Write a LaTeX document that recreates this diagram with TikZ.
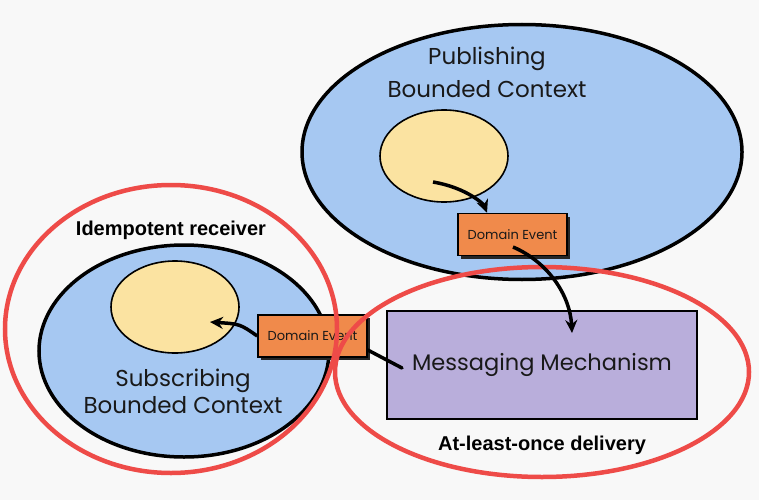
\documentclass[tikz,border=0pt]{standalone}
\usepackage{fontspec}
\setmainfont{Poppins}
\newfontfamily\labelfont{Liberation Sans}
\usetikzlibrary{shapes.geometric,arrows.meta}
\definecolor{bgc}{HTML}{F8F8F8}
\definecolor{ctxblue}{HTML}{A6C8F2}
\definecolor{aggyel}{HTML}{FBE3A1}
\definecolor{evorange}{HTML}{F08A4B}
\definecolor{msglav}{HTML}{B9AEDB}
\definecolor{ringred}{HTML}{EE4B48}
\tikzset{
  ctx/.style={ellipse, draw=black, line width=3.5pt, fill=ctxblue, inner sep=0pt},
  agg/.style={ellipse, draw=black, line width=1.6pt, fill=aggyel, inner sep=0pt, minimum width=128pt, minimum height=92pt},
  evbox/.style={rectangle, draw=black, line width=1.5pt, fill=evorange, minimum width=109pt, minimum height=42pt, inner sep=0pt, text=black!90, font=\fontsize{13}{15}\selectfont},
  evshadow/.style={rectangle, fill=black!85, minimum width=109pt, minimum height=42pt, inner sep=0pt},
  hand/.style={align=center, text=black!90, font=\fontsize{23}{33}\selectfont},
  ring/.style={ellipse, draw=ringred, line width=4.5pt, inner sep=0pt},
  ringlabel/.style={font=\labelfont\bfseries\fontsize{20}{23}\selectfont},
  arr/.style={line width=3.5pt, -{Stealth[length=13pt,width=12pt]}},
  link/.style={line width=3.5pt, line cap=round}
}
\begin{document}
\begin{tikzpicture}[x=1pt,y=-1pt]
\fill[bgc] (0,0) rectangle (759,500);
\useasboundingbox (0,0) rectangle (759,500);
% publishing context
\node[ctx, minimum width=440pt, minimum height=255pt] (pub) at (522,152) {};
\node[hand] (pubtxt) at (487,72) {Publishing\\Bounded Context};
\node[agg] (pubagg) at (444,156) {};
% subscribing context
\node[ctx, minimum width=290pt, minimum height=212pt] (sub) at (184,351) {};
\node[agg] (subagg) at (175,307) {};
\node[hand, font=\fontsize{23}{27}\selectfont] (subtxt) at (183,391) {Subscribing\\Bounded Context};
% messaging mechanism
\node[rectangle, draw=black, line width=2pt, fill=msglav, minimum width=310pt, minimum height=108pt, inner sep=0pt, font=\fontsize{22.5}{26}\selectfont, text=black!90] (msg) at (542,365) {Messaging Mechanism};
% domain events
\node[evshadow] (de1s) at (515.5,237.5) {};
\node[evbox] (de1) at (512.5,234.5) {Domain Event};
\node[evshadow] (de2s) at (315.5,339) {};
\node[evbox] (de2) at (312.5,336) {Domain Event};
% rings
\node[ring, minimum width=332pt, minimum height=288pt] (ringL) at (171,329) {};
\node[ring, minimum width=414pt, minimum height=210pt] (ringR) at (542,372) {};
\node[ringlabel] (lblL) at (171,230) {Idempotent receiver};
\node[ringlabel] (lblR) at (542,445) {At-least-once delivery};
% connectors
\coordinate (a1) at (433,182);
\coordinate (a2) at (513,247);
\coordinate (a3) at (572,333);
\coordinate (a4) at (210,322);
\coordinate (a5) at (402,368);
\draw[arr] (a1) .. controls (468,188) and (484,205) .. (de1.north -| 487,0);
\draw[arr] (a2) .. controls (548,262) and (570,295) .. (a3);
\draw[arr] (de2.west) .. controls (240,324) .. (a4);
\draw[link] (de2.east |- 0,350) -- (a5);
\end{tikzpicture}
\end{document}
